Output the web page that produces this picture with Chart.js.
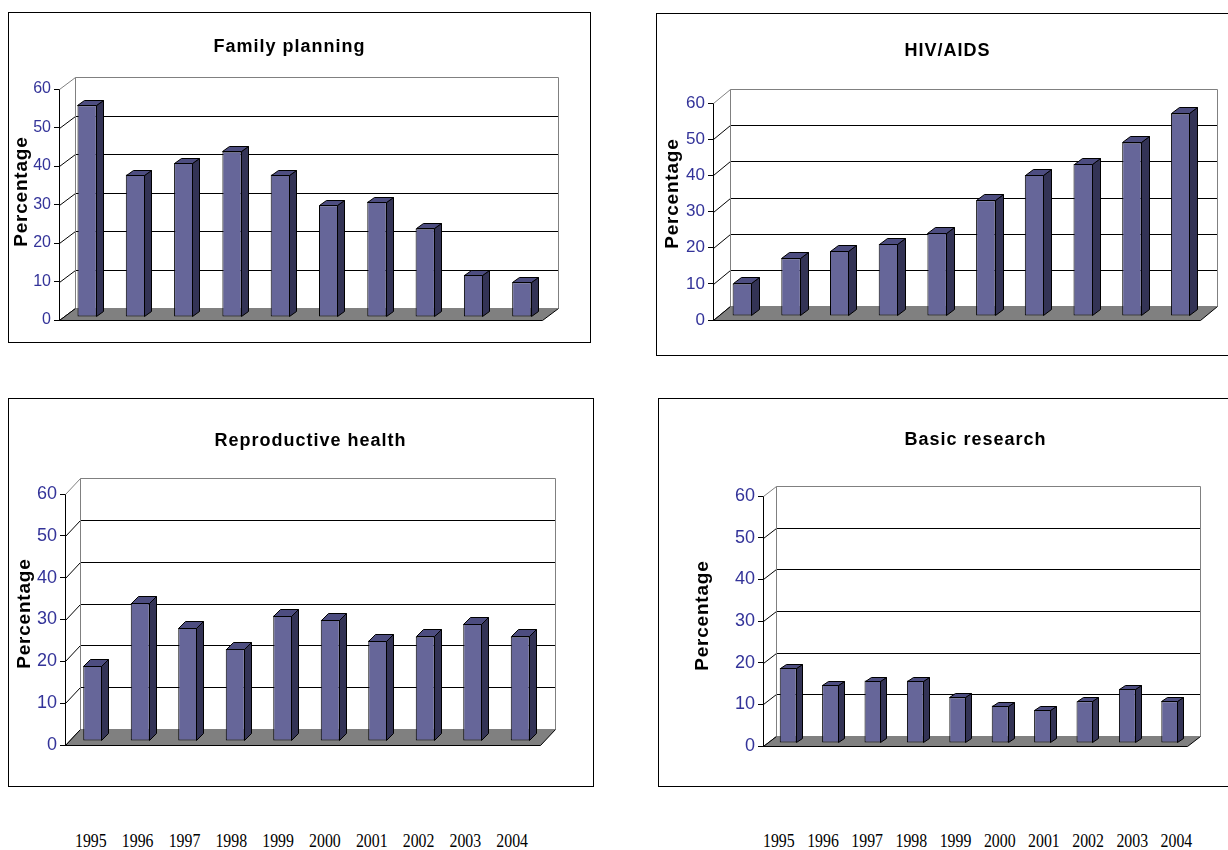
<!DOCTYPE html>
<html>
<head>
<meta charset="utf-8">
<title>Funding shares 1995-2004</title>
<script src="https://cdn.jsdelivr.net/npm/chart.js@4.4.0/dist/chart.umd.min.js"></script>
<style>
  html, body { margin: 0; padding: 0; background: #fff; }
  body { width: 1228px; height: 850px; position: relative; overflow: hidden; }
  .panel { position: absolute; border: 1px solid #000; box-sizing: border-box; background: #fff; }
  .panel canvas { display: block; }
  .years {
    position: absolute; top: 831px;
    font-family: "Liberation Serif", "Times New Roman", serif;
    font-size: 18px; white-space: nowrap; color: #000;
    transform: scaleX(0.88); transform-origin: 0 0;
  }
</style>
</head>
<body>
<div class="years" id="yearsLeft" style="left:75px; word-spacing:12.7px;"></div>
<div class="years" id="yearsRight" style="left:763px; word-spacing:9.7px;"></div>

<script>
// data
const years = ['1995', '1996', '1997', '1998', '1999', '2000', '2001', '2002', '2003', '2004'];
const familyPlanning = [55, 37, 40, 43, 37, 29, 30, 23, 11, 9];
const hivAids = [9, 16, 18, 20, 23, 32, 39, 42, 48, 56];
const reproductiveHealth = [18, 33, 27, 22, 30, 29, 24, 25, 28, 25];
const basicResearch = [18, 14, 15, 15, 11, 9, 8, 10, 13, 10];
const yMin = 0, yMax = 60, yStep = 10;

const FRONT = '#666699';
const SIDE = '#333355';
const TOP = '#4d4d80';
const WALL_EDGE = '#808080';
const FLOOR = '#808080';

// page positions of each panel (box) and of its front plot plane
const panels = [
  { id: 'fp', title: 'Family planning', values: familyPlanning,
    box: [8, 12, 591, 343], plot: [59, 89, 542, 320], titleAt: [289, 47], ylabelAt: [22, 192],
    depth: [16, -12], tickSize: 16 },
  { id: 'hiv', title: 'HIV/AIDS', values: hivAids,
    box: [656, 13, 1240, 356], plot: [713, 103, 1200, 320], titleAt: [947, 51], ylabelAt: [673, 194],
    depth: [17, -14], tickSize: 17 },
  { id: 'rh', title: 'Reproductive health', values: reproductiveHealth,
    box: [8, 398, 594, 787], plot: [65, 494, 540, 745], titleAt: [310, 441], ylabelAt: [25, 614],
    depth: [15, -16], tickSize: 18 },
  { id: 'br', title: 'Basic research', values: basicResearch,
    box: [658, 398, 1240, 787], plot: [763, 496, 1187, 746], titleAt: [975, 440], ylabelAt: [703, 616],
    depth: [13, -10], tickSize: 18 }
];

const FONT = 'Arial, "Liberation Sans", sans-serif';

// draws the walls, floor and the depth faces of the bars
const depth3d = {
  id: 'depth3d',
  beforeDatasetsDraw(chart, args, opts) {
    const { ctx, chartArea: a } = chart;
    const y = chart.scales.y;
    const dx = opts.dx, dy = opts.dy;
    const L = a.left + 0.5, R = a.right + 0.5, B = Math.round(a.bottom) + 0.5;

    ctx.save();
    ctx.lineWidth = 1;

    // gridlines: diagonal on the side wall, then across the back wall
    y.ticks.forEach(t => {
      const py = Math.round(y.getPixelForValue(t.value)) + 0.5;
      ctx.strokeStyle = t.value === yMax ? WALL_EDGE : '#000';
      ctx.beginPath();
      ctx.moveTo(L, py);
      ctx.lineTo(L + dx, py + dy);
      ctx.lineTo(R + dx, py + dy);
      ctx.stroke();
    });

    // back wall edges
    const topY = Math.round(y.getPixelForValue(yMax)) + 0.5;
    ctx.strokeStyle = WALL_EDGE;
    ctx.beginPath();
    ctx.moveTo(L + dx, B + dy);
    ctx.lineTo(L + dx, topY + dy);
    ctx.moveTo(R + dx, topY + dy);
    ctx.lineTo(R + dx, B + dy);
    ctx.stroke();

    // floor
    ctx.fillStyle = FLOOR;
    ctx.beginPath();
    ctx.moveTo(L, B);
    ctx.lineTo(R, B);
    ctx.lineTo(R + dx, B + dy);
    ctx.lineTo(L + dx, B + dy);
    ctx.closePath();
    ctx.fill();
    ctx.strokeStyle = '#000';
    ctx.beginPath();
    ctx.moveTo(L + dx, B + dy);
    ctx.lineTo(L, B);
    ctx.lineTo(R, B);
    ctx.lineTo(R + dx, B + dy);
    ctx.stroke();
    ctx.strokeStyle = WALL_EDGE;
    ctx.beginPath();
    ctx.moveTo(L + dx, B + dy);
    ctx.lineTo(R + dx, B + dy);
    ctx.stroke();
    ctx.restore();

    // bars sit a little behind the front plane
    ctx.save();
    ctx.translate(Math.round(dx * 0.275), Math.round(dy * 0.275));
  },

  afterDatasetsDraw(chart, args, opts) {
    const ctx = chart.ctx;
    const bdx = Math.round(opts.dx * 0.45), bdy = Math.round(opts.dy * 0.45);
    ctx.lineWidth = 1;
    ctx.strokeStyle = '#000';
    chart.getDatasetMeta(0).data.forEach(bar => {
      const { x, y, base, width } = bar.getProps(['x', 'y', 'base', 'width'], true);
      const l = Math.round(x - width / 2) + 0.5;
      const r = Math.round(x + width / 2) - 0.5;
      const t = Math.round(y) + 0.5;
      const b = Math.round(base) - 0.5;
      // right side
      ctx.fillStyle = SIDE;
      ctx.beginPath();
      ctx.moveTo(r, t);
      ctx.lineTo(r + bdx, t + bdy);
      ctx.lineTo(r + bdx, b + bdy);
      ctx.lineTo(r, b);
      ctx.closePath();
      ctx.fill();
      ctx.stroke();
      // top
      ctx.fillStyle = TOP;
      ctx.beginPath();
      ctx.moveTo(l, t);
      ctx.lineTo(l + bdx, t + bdy);
      ctx.lineTo(r + bdx, t + bdy);
      ctx.lineTo(r, t);
      ctx.closePath();
      ctx.fill();
      ctx.stroke();
    });
    ctx.restore();
  },

  afterDraw(chart, args, opts) {
    const ctx = chart.ctx;
    ctx.save();
    ctx.fillStyle = '#000';
    ctx.textAlign = 'center';
    ctx.textBaseline = 'middle';
    ctx.font = 'bold 18px ' + FONT;
    ctx.letterSpacing = '1px';
    ctx.fillText(opts.title, opts.titleX + 0.5, opts.titleY);
    ctx.translate(opts.ylabelX, opts.ylabelY);
    ctx.rotate(-Math.PI / 2);
    ctx.font = 'bold 19px ' + FONT;
    ctx.letterSpacing = '0.8px';
    ctx.fillText('Percentage', 0.4, 0);
    ctx.restore();
  }
};

panels.forEach(cfg => {
  const [bl, bt, br, bb] = cfg.box;
  const [x0, y60, x1, y0] = cfg.plot;
  const wrap = document.createElement('div');
  wrap.className = 'panel';
  wrap.style.left = bl + 'px';
  wrap.style.top = bt + 'px';
  wrap.style.width = (br - bl) + 'px';
  wrap.style.height = (bb - bt) + 'px';
  const canvas = document.createElement('canvas');
  const W = br - bl - 2, H = bb - bt - 2;
  canvas.width = W;
  canvas.height = H;
  canvas.id = cfg.id + 'Chart';
  wrap.appendChild(canvas);
  document.body.appendChild(wrap);

  const ox = bl + 1, oy = bt + 1;

  new Chart(canvas, {
    type: 'bar',
    data: {
      labels: years,
      datasets: [{
        data: cfg.values,
        backgroundColor: FRONT,
        borderColor: '#000',
        borderWidth: 1,
        borderSkipped: false,
        barPercentage: 0.4,
        categoryPercentage: 1,
        clip: false
      }]
    },
    options: {
      responsive: false,
      animation: false,
      events: [],
      layout: {
        padding: { left: 0, top: y60 - oy, right: W - (x1 - ox), bottom: H - (y0 - oy) }
      },
      plugins: {
        legend: { display: false },
        tooltip: { enabled: false },
        title: { display: false },
        depth3d: {
          dx: cfg.depth[0], dy: cfg.depth[1],
          title: cfg.title,
          titleX: cfg.titleAt[0] - ox, titleY: cfg.titleAt[1] - oy,
          ylabelX: cfg.ylabelAt[0] - ox, ylabelY: cfg.ylabelAt[1] - oy
        }
      },
      scales: {
        x: { display: false },
        y: {
          min: yMin,
          max: yMax,
          ticks: { stepSize: yStep, color: '#333399', padding: 3, font: { family: FONT, size: cfg.tickSize } },
          grid: { drawOnChartArea: false, drawTicks: true, tickLength: 5, color: '#000' },
          border: { display: true, color: '#000' },
          afterFit: s => { s.width = x0 - ox; }
        }
      }
    },
    plugins: [depth3d]
  });
});

document.getElementById('yearsLeft').textContent = years.join(' ');
document.getElementById('yearsRight').textContent = years.join(' ');
</script>
</body>
</html>
